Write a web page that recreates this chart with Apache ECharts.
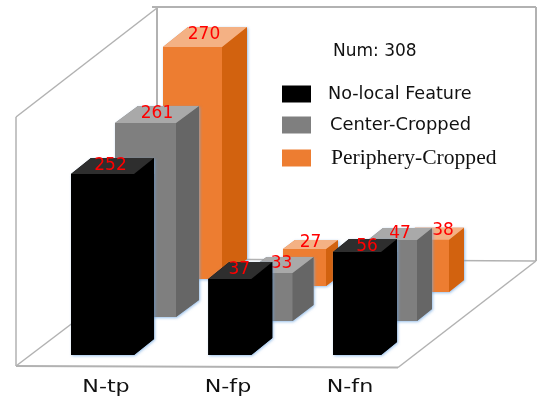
<!DOCTYPE html>
<html>
<head>
<meta charset="utf-8">
<style>html,body{margin:0;padding:0;background:#fff}#chart{width:538px;height:399px}</style>
<script src="https://cdn.jsdelivr.net/npm/echarts@6/dist/echarts.min.js"></script>
</head>
<body>
<div id="chart"></div>
<script>
// Measures per feature type
const categories = ['N-tp', 'N-fp', 'N-fn'];
const noLocalFeature = [252, 37, 56];
const centerCropped = [261, 33, 47];
const peripheryCropped = [270, 27, 38];
const sampleCount = 'Num: 308';

// Box projection for each row: width, depth, and small adjustments per category
const blackBox = { widths: [63, 43, 48], depthX: [20, 21, 16], depthY: [16, 17, 13], nudgeX: [0, 0, 0], lift: [0, 0, 0], labelX: [-2, -1, 2], labelY: [-1, -1, 1] };
const grayBox = { widths: [61, 47, 49], depthX: [23, 21, 15], depthY: [17, 16, 12], nudgeX: [0, 0, 0], lift: [4, 0, 0], labelX: [0, 2, 0], labelY: [-1, -2, -1] };
const orangeBox = { widths: [59, 43, 49], depthX: [25, 12, 15], depthY: [20, 9, 12], nudgeX: [0, -4, 0], lift: [13, 6, 0], labelX: [-1, 0, 11], labelY: [-3, -2, -4] };

const faces = {
  black: { front: '#000000', side: '#000000', top: '#2e2e2e' },
  gray: { front: '#7f7f7f', side: '#666666', top: '#a9a9a9' },
  orange: { front: '#ed7d31', side: '#d2620f', top: '#f4b184' }
};

function boxSeries(name, values, box, color, axisIndex, z) {
  return {
    type: 'custom',
    name: name,
    xAxisIndex: axisIndex,
    yAxisIndex: axisIndex,
    z: z,
    clip: false,
    itemStyle: { color: color.front },
    data: values.map(function (v, i) { return [i, v]; }),
    encode: { x: 0, y: 1 },
    renderItem: function (params, api) {
      const i = api.value(0);
      const v = api.value(1);
      const anchor = api.coord([i, v]);
      const grid = params.coordSys;
      const w = box.widths[i];
      const dx = box.depthX[i];
      const dy = box.depthY[i];
      const x0 = anchor[0] - w / 2 + box.nudgeX[i];
      const x1 = x0 + w;
      const top = anchor[1];
      const base = grid.y + grid.height - box.lift[i];
      const poly = function (points, fill, extra) {
        return { type: 'polygon', shape: { points: points }, style: Object.assign({ fill: fill }, extra || {}) };
      };
      return {
        type: 'group',
        children: [
          poly([[x0, top], [x0 + dx, top - dy], [x1 + dx, top - dy], [x1 + dx, base - dy], [x1, base], [x0, base]], color.front, {
            shadowBlur: 3, shadowOffsetX: 1, shadowOffsetY: 1, shadowColor: 'rgba(110,165,225,0.7)'
          }),
          poly([[x0, top], [x1, top], [x1, base], [x0, base]], color.front),
          poly([[x1, top], [x1 + dx, top - dy], [x1 + dx, base - dy], [x1, base]], color.side),
          poly([[x0, top], [x0 + dx, top - dy], [x1 + dx, top - dy], [x1, top]], color.top),
          {
            type: 'text',
            x: (x0 + x1 + dx) / 2 + box.labelX[i],
            y: top - dy / 2 + box.labelY[i] + 0.5,
            style: {
              text: String(v), fill: '#ff0000', font: '17px "DejaVu Sans"',
              textAlign: 'center', textVerticalAlign: 'middle'
            }
          }
        ]
      };
    }
  };
}

const wallColor = '#b2b2b2';
function wall(points, width) {
  return { type: 'polyline', silent: true, z: 0, shape: { points: points }, style: { stroke: wallColor, lineWidth: width, fill: null } };
}

const legendRich = {
  sans: { fontFamily: 'DejaVu Sans', fontSize: 17.6, color: '#111', lineHeight: 17, padding: [0, 0, 0, 12] },
  sansC: { fontFamily: 'DejaVu Sans', fontSize: 17.9, color: '#111', lineHeight: 17, padding: [0, 0, 0, 14] },
  serif: { fontFamily: 'Liberation Serif', fontSize: 21.6, color: '#111', lineHeight: 17, padding: [0, 0, 0, 15] }
};
const legendStyle = { 'No-local Feature': 'sans', 'Center-Cropped': 'sansC', 'Periphery-Cropped': 'serif' };

const chart = echarts.init(document.getElementById('chart'), null, { renderer: 'canvas' });
chart.setOption({
  animation: false,
  backgroundColor: '#ffffff',
  title: {
    text: sampleCount, left: 328, top: 38,
    textStyle: { fontFamily: 'DejaVu Sans', fontSize: 17, fontWeight: 'normal', color: '#111' }
  },
  legend: {
    left: 277, top: 80, orient: 'vertical', icon: 'rect',
    itemWidth: 29, itemHeight: 17, itemGap: 13, selectedMode: false,
    data: ['No-local Feature', 'Center-Cropped', 'Periphery-Cropped'],
    formatter: function (name) { return '{' + legendStyle[name] + '|' + name + '}'; },
    textStyle: { rich: legendRich }
  },
  grid: [
    { left: 38.9, width: 381.75, top: 174, height: 181 },
    { left: 83.75, width: 370.5, top: 123, height: 198 },
    { left: 134.5, width: 348, top: 47, height: 245 },
    { left: 45, width: 366, top: 386, height: 1 }
  ],
  xAxis: [0, 1, 2, 3].map(function (g) {
    return { type: 'category', gridIndex: g, data: categories, show: false };
  }),
  yAxis: [
    { type: 'value', gridIndex: 0, show: false, min: -16.5, max: 252, breaks: [{ start: 60, end: 245, gap: 43.9 }], breakArea: { show: false } },
    { type: 'value', gridIndex: 1, show: false, min: 12.6, max: 261, breaks: [{ start: 50, end: 255, gap: 40.6 }], breakArea: { show: false } },
    { type: 'value', gridIndex: 2, show: false, min: -24.7, max: 270 },
    { type: 'value', gridIndex: 3, show: false, min: 0, max: 1 }
  ],
  series: [
    boxSeries('No-local Feature', noLocalFeature, blackBox, faces.black, 0, 5),
    boxSeries('Center-Cropped', centerCropped, grayBox, faces.gray, 1, 4),
    boxSeries('Periphery-Cropped', peripheryCropped, orangeBox, faces.orange, 2, 3),
    {
      type: 'custom',
      name: 'Feature type',
      xAxisIndex: 3,
      yAxisIndex: 3,
      z: 6,
      clip: false,
      data: categories.map(function (c, i) { return [i, 0]; }),
      encode: { x: 0, y: 1 },
      renderItem: function (params, api) {
        const p = api.coord([api.value(0), 0]);
        return {
          type: 'text',
          x: p[0],
          y: p[1],
          scaleX: 1.2,
          style: {
            text: categories[api.value(0)], fill: '#111', font: '18.5px "DejaVu Sans"',
            textAlign: 'center', textVerticalAlign: 'middle'
          }
        };
      }
    }
  ],
  graphic: {
    elements: [
      wall([[157, 7], [157, 259]], 2),
      wall([[16, 117], [157, 8]], 1.5),
      wall([[16, 117], [16, 366]], 1.5),
      wall([[152, 7], [536, 7]], 2),
      wall([[536, 7], [536, 261]], 2),
      wall([[157, 259], [536, 261]], 1.5),
      wall([[16, 366], [157, 259]], 1.5),
      wall([[16, 366], [398, 367.5]], 2),
      wall([[398, 367.5], [536, 261]], 1.5)
    ]
  }
});
</script>
</body>
</html>
